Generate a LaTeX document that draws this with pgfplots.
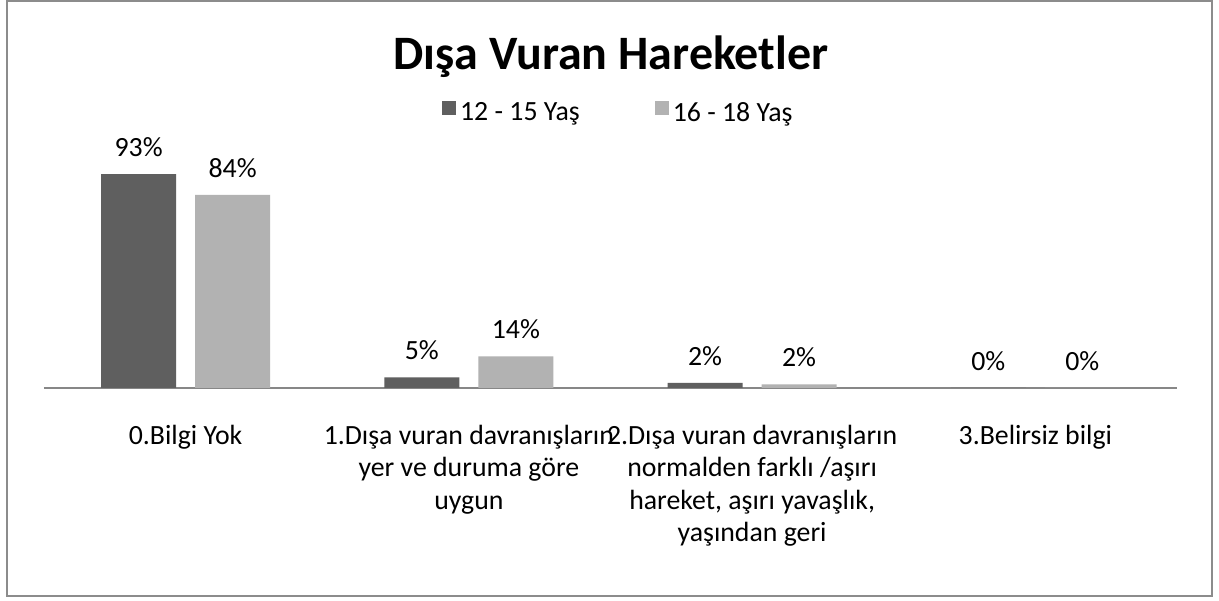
\documentclass[border=0pt]{standalone}
\usepackage{pgfplots}
\pgfplotsset{compat=1.18}
\usepackage{fontspec}
\setmainfont{Carlito}
\definecolor{darkbar}{HTML}{5F5F5F}
\definecolor{lightbar}{HTML}{B2B2B2}
\definecolor{frame}{HTML}{8C8C8C}
\definecolor{axisgray}{HTML}{878787}

\newcommand{\lbl}{\fontsize{27.8}{32.5}\selectfont}

\begin{document}
\begin{tikzpicture}
\useasboundingbox (-44pt,-213pt) rectangle (1175pt,388pt);
\fill[white] (-44pt,-213pt) rectangle (1175pt,388pt);
\draw[frame,line width=1.5pt] (-37pt,387pt) rectangle (1168pt,-208pt);
\node[font=\fontsize{48}{52}\selectfont\bfseries,anchor=base] at (567pt,318pt) {Dışa Vuran Hareketler};
\begin{axis}[
  scale only axis,
  width=1133pt, height=230pt,
  xmin=-0.5, xmax=3.5, ymin=0, ymax=100,
  ybar=19pt, bar width=75pt,
  axis x line*=bottom, axis y line=none,
  x axis line style={axisgray,line width=1.3pt,-},
  xtick=data, major tick length=0pt,
  xticklabels={0.Bilgi Yok,
    {1.Dışa vuran davranışların\\yer ve duruma göre\\uygun},
    {2.Dışa vuran davranışların\\normalden farklı /aşırı\\hareket, aşırı yavaşlık,\\yaşından geri},
    3.Belirsiz bilgi},
  xticklabel style={align=center,anchor=north,inner sep=0pt,yshift=-37pt,font=\lbl},
  ytick=\empty,
  nodes near coords={\pgfmathprintnumber[assume math mode=true,fixed,precision=0]{\pgfplotspointmeta}\%},
  every node near coord/.append style={font=\lbl,anchor=south,inner sep=0pt,yshift=17pt,black},
  legend columns=2,
  legend style={at={(axis description cs:0.506,1.2)},anchor=center,draw=none,fill=none,
    font=\lbl,nodes={inner sep=0pt},
    /tikz/every even column/.append style={column sep=75pt}},
  legend image code/.code={\fill[#1] (0pt,-3pt) rectangle (14pt,11pt);},
]
\addplot[fill=darkbar,draw=none] coordinates {(0,93) (1,4.6) (2,2.2) (3,0)};
\addplot[fill=lightbar,draw=none] coordinates {(0,84) (1,13.8) (2,1.6) (3,0)};
\legend{\hspace{4pt}12 - 15 Yaş,\hspace{4pt}16 - 18 Yaş}
\end{axis}
\end{tikzpicture}
\end{document}
